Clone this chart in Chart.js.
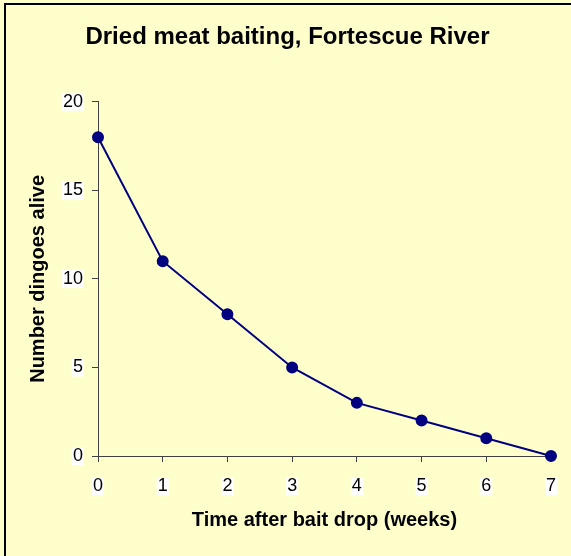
<!DOCTYPE html>
<html>
<head>
<meta charset="utf-8">
<script src="https://cdn.jsdelivr.net/npm/chart.js@4.4.1/dist/chart.umd.min.js"></script>
<style>
  html, body { margin: 0; padding: 0; background: #fff; overflow: hidden; }
  #wrap { width: 571px; height: 556px; }
</style>
</head>
<body>
<div id="wrap"><canvas id="chart" width="571" height="556"></canvas></div>
<script>
// data
const weeks = [0, 1, 2, 3, 4, 5, 6, 7];
const dingoes = [18, 11, 8, 5, 3, 2, 1, 0];
const yTicks = [0, 5, 10, 15, 20];

const navy = '#000080';
const axisColor = '#404040';
const fontFam = 'Liberation Sans, Arial, sans-serif';

// yellow background plus the black frame (only top/left visible in the picture)
const frame = {
    id: 'frame',
    beforeDraw(chart) {
        const ctx = chart.ctx;
        ctx.save();
        ctx.fillStyle = '#FFFFCC';
        ctx.fillRect(0, 0, chart.width, chart.height);
        ctx.strokeStyle = '#000';
        ctx.lineWidth = 2;
        ctx.beginPath();
        ctx.moveTo(5, chart.height);
        ctx.lineTo(5, 4);
        ctx.lineTo(chart.width, 4);
        ctx.stroke();
        ctx.restore();
    }
};

const ctx = document.getElementById('chart').getContext('2d');
new Chart(ctx, {
    type: 'line',
    data: {
        datasets: [{
            data: weeks.map((w, i) => ({ x: w, y: dingoes[i] })),
            borderColor: navy,
            backgroundColor: navy,
            borderWidth: 2,
            pointRadius: 5,
            pointBackgroundColor: navy,
            pointBorderColor: navy,
            tension: 0,
            clip: false
        }]
    },
    options: {
        responsive: false,
        animation: false,
        layout: { padding: { left: 20, right: 16, top: 0, bottom: 20 } },
        plugins: {
            legend: { display: false },
            tooltip: { enabled: false },
            title: {
                display: true,
                text: 'Dried meat baiting, Fortescue River',
                color: '#000',
                font: { family: fontFam, size: 24, weight: 'bold' },
                padding: { top: 23, bottom: 50 }
            }
        },
        scales: {
            x: {
                type: 'linear',
                min: 0,
                max: 7,
                afterFit(scale) { scale.height = 80; },
                afterBuildTicks(scale) { scale.ticks = weeks.map(v => ({ value: v })); },
                grid: { drawOnChartArea: false, drawTicks: true, tickLength: 6, color: axisColor },
                border: { display: true, color: axisColor, width: 1 },
                ticks: {
                    color: '#000',
                    font: { family: fontFam, size: 18, lineHeight: 1 },
                    padding: 15,
                    maxRotation: 0,
                    showLabelBackdrop: true,
                    backdropColor: '#fff',
                    backdropPadding: { x: 1, y: 0 }
                },
                title: {
                    display: true,
                    text: 'Time after bait drop (weeks)',
                    color: '#000',
                    font: { family: fontFam, size: 20, weight: 'bold' },
                    padding: { top: 0, bottom: 4 }
                }
            },
            y: {
                min: 0,
                max: 20,
                afterFit(scale) { scale.width = 78; },
                afterBuildTicks(scale) { scale.ticks = yTicks.map(v => ({ value: v })); },
                grid: { drawOnChartArea: false, drawTicks: true, tickLength: 6, color: axisColor },
                border: { display: true, color: axisColor, width: 1 },
                ticks: {
                    color: '#000',
                    font: { family: fontFam, size: 18, lineHeight: 1 },
                    padding: 9,
                    showLabelBackdrop: true,
                    backdropColor: '#fff',
                    backdropPadding: { x: 1, y: 0 }
                },
                title: {
                    display: true,
                    text: 'Number dingoes alive',
                    color: '#000',
                    font: { family: fontFam, size: 20, weight: 'bold' },
                    padding: { top: 6, bottom: 0 }
                }
            }
        }
    },
    plugins: [frame]
});
</script>
</body>
</html>
